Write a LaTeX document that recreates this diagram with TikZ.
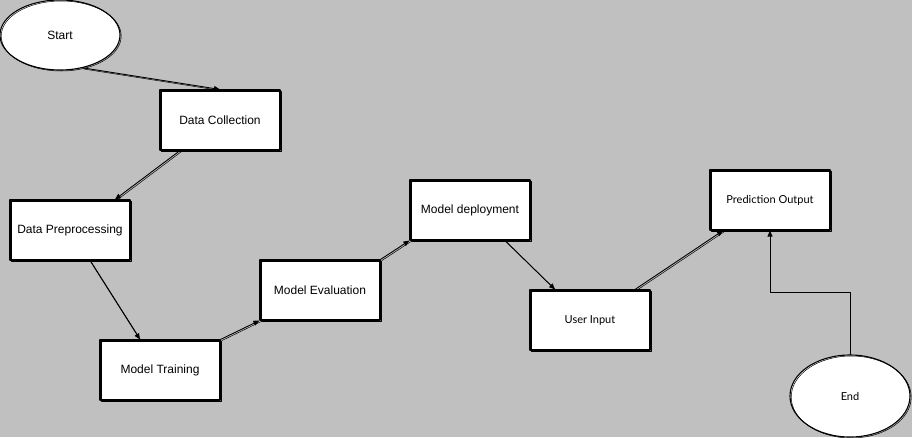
\documentclass[tikz,border=0pt]{standalone}
\usepackage{fontspec}
\setmainfont{Liberation Sans}
\newfontfamily\handfont{Lato}
\usepackage{tikz}
\usetikzlibrary{arrows.meta, calc, positioning}
\usetikzlibrary{shapes.geometric, backgrounds}
\usepackage{xcolor}
\definecolor{sketchgray}{RGB}{192, 192, 192}

\begin{document}
\begin{tikzpicture}[line cap=round, line join=round, >={Triangle[length=6pt,width=5pt]}, x=1pt, y=-1pt,
	sketch/.style={draw, line width=1.1pt, postaction={draw, line width=0.5pt, transform canvas={shift={(1.2pt,-1pt)}}}},
	stepbox/.style={sketch, fill=white, rectangle, minimum width=120pt, minimum height=60pt, inner sep=0pt, font=\fontsize{12}{14}\selectfont},
	handbox/.style={stepbox, font=\handfont\fontsize{11}{13}\selectfont},
	ovalnode/.style={sketch, fill=white, ellipse, minimum width=120pt, minimum height=70pt, inner sep=0pt},
	flow/.style={->, line width=0.9pt, postaction={draw, -, line width=0.5pt, transform canvas={shift={(1.2pt,-1.2pt)}}}},
	elbow/.style={->, line width=0.7pt}]
	% background
	\fill[sketchgray] (0,0) rectangle (912,437);
	\useasboundingbox (0,0) rectangle (912,437);

	% terminals
	\node[ovalnode, font=\fontsize{12}{14}\selectfont] (start) at (60,35) {Start};
	\node[ovalnode, minimum width=120pt, minimum height=82pt, font=\handfont\fontsize{11}{13}\selectfont] (end) at (850,396) {End};

	% steps
	\node[stepbox] (collect) at (220,120) {Data Collection};
	\node[stepbox] (prep) at (70,230) {Data Preprocessing};
	\node[stepbox] (train) at (160,370) {Model Training};
	\node[stepbox] (eval) at (320,290) {Model Evaluation};
	\node[stepbox] (deploy) at (470,210) {Model deployment};
	\node[handbox] (user) at (590,320) {User Input};
	\node[handbox] (pred) at (770,200) {Prediction Output};

	% connectors
	\draw[flow] (start.-55) -- (collect.north);
	\draw[flow] ([xshift=-40pt]collect.south) -- ([xshift=45pt]prep.north);
	\draw[flow] ([xshift=20pt]prep.south) -- ([xshift=-20pt]train.north);
	\draw[flow] (train.north east) -- (eval.south west);
	\draw[flow] (eval.north east) -- (deploy.south west);
	\draw[flow] ([xshift=35pt]deploy.south) -- ([xshift=-35pt]user.north);
	\draw[flow] ([xshift=45pt]user.north) -- ([xshift=-47pt]pred.south);
	\draw[elbow] (end.north) -- ++(0,-62) -| (pred.south);

\end{tikzpicture}
\end{document}
